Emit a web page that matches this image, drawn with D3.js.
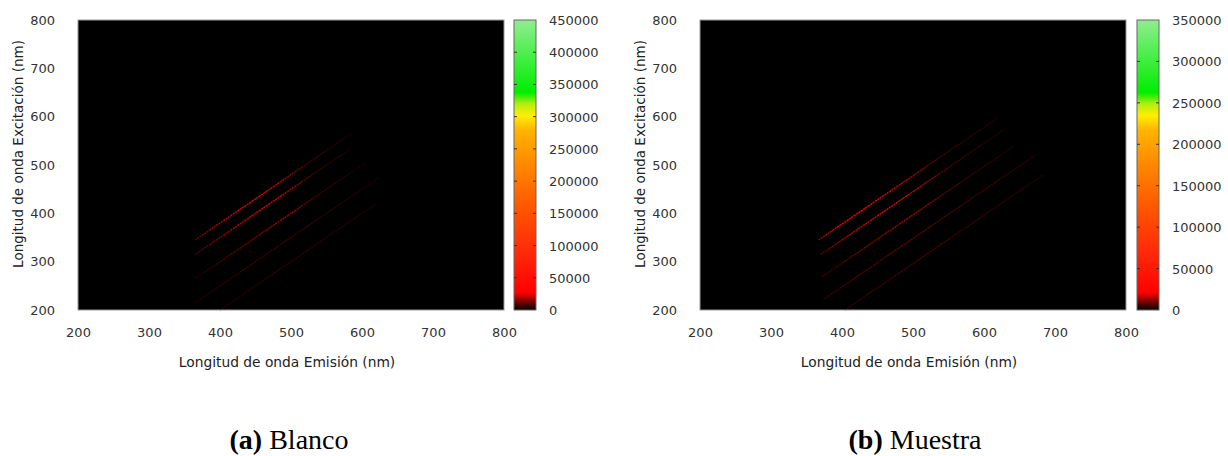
<!DOCTYPE html>
<html>
<head>
<meta charset="utf-8">
<script src="https://cdn.jsdelivr.net/npm/d3@7"></script>
<style>
  body { margin: 0; background: #fff; }
</style>
</head>
<body>
<svg id="canvas" width="1228" height="456" font-family="DejaVu Sans"></svg>
<script>
// axis ticks (nm)
let axisTicks = [200, 300, 400, 500, 600, 700, 800];

// scatter lines: emission = excitation + offset
let lineOffsets = [20, 50, 100, 150, 200];
let exStep = 10;

// Blanco: start excitation and intensity (x1000) each 10 nm
let blancoStart = [345, 315, 265, 215, 200];
let blancoValues = [
  [11, 14, 17, 19, 21, 22, 23, 23, 24, 23, 22, 21, 19, 16, 11, 9, 7, 6, 5, 4, 4, 3, 3],
  [8, 10, 12, 14, 16, 18, 19, 21, 22, 23, 23, 22, 21, 19, 15, 11, 8, 6, 5, 4, 4, 3, 3],
  [4, 5, 6, 7, 8, 9, 10, 11, 12, 13, 15, 17, 18, 17, 15, 11, 9, 7, 6, 5, 4, 4, 3, 3, 3],
  [4, 4, 4, 5, 5, 5, 6, 6, 6, 6, 7, 7, 7, 7, 6, 6, 6, 5, 5, 5, 4, 4, 4, 3, 3, 3, 3],
  [3, 4, 4, 4, 4, 5, 5, 5, 5, 5, 5, 5, 5, 5, 5, 4, 4, 4, 4, 4, 3, 3, 3]
];
let blancoMax = 450000;
let blancoCbTicks = [0, 50000, 100000, 150000, 200000, 250000, 300000, 350000, 400000, 450000];

// Muestra
let muestraStart = [345, 315, 268, 222, 200];
let muestraOffsets = [22, 55, 103, 152, 204];
let muestraValues = [
  [13, 16, 18, 19, 20, 20, 20, 20, 19, 18, 18, 17, 15, 13, 10, 8, 7, 6, 5, 5, 4, 4, 4, 3, 3, 3],
  [8, 10, 11, 13, 15, 16, 17, 18, 19, 19, 19, 18, 17, 16, 14, 12, 10, 8, 6, 5, 5, 4, 4, 3, 3, 3, 3],
  [5, 5, 6, 7, 8, 9, 10, 10, 11, 12, 13, 14, 14, 13, 12, 11, 10, 8, 7, 6, 5, 5, 4, 4, 4, 3, 3, 3],
  [4, 5, 5, 6, 6, 6, 7, 7, 7, 8, 8, 8, 8, 8, 8, 7, 7, 7, 6, 6, 6, 5, 5, 5, 5, 4, 4, 4, 4, 3, 3],
  [4, 4, 4, 5, 5, 5, 5, 6, 6, 6, 6, 6, 6, 6, 6, 5, 5, 5, 5, 5, 4, 4, 4, 4, 4, 4, 3, 3, 3]
];
let muestraMax = 350000;
let muestraCbTicks = [0, 50000, 100000, 150000, 200000, 250000, 300000, 350000];

// palette (fraction of max -> colour)
let paletteStops = [0, 0.06, 0.2, 0.35, 0.5, 0.62, 0.67, 0.71, 0.75, 1];
let paletteColors = ["#000000", "#ff0000", "#ff2a0a", "#ff5500", "#ff8800", "#ffb400", "#ffee00", "#b4ee10", "#00ee00", "#90ee90"];

let svg = d3.select("#canvas");

let drawPanel = (opts) => {
  let g = svg.append("g");
  let x = d3.scaleLinear().domain([200, 800]).range([opts.x0, opts.x1]);
  let y = d3.scaleLinear().domain([200, 800]).range([310, 20]);
  let color = d3.scaleLinear()
    .domain(paletteStops.map((s) => s * opts.max))
    .range(paletteColors)
    .clamp(true);

  g.append("rect")
    .attr("x", opts.x0).attr("y", 20)
    .attr("width", opts.x1 - opts.x0).attr("height", 290)
    .attr("fill", "#000");

  // scatter lines
  opts.values.forEach((vals, i) => {
    let off = opts.offsets[i];
    let ex0 = opts.start[i];
    for (let j = 0; j < vals.length - 1; j++) {
      let a = ex0 + j * exStep;
      let b = a + exStep;
      g.append("line")
        .attr("x1", x(a + off)).attr("y1", y(a))
        .attr("x2", x(b + off)).attr("y2", y(b))
        .attr("stroke", color(vals[j] * 1000))
        .attr("stroke-width", 1.4)
        .attr("stroke-dasharray", "2,0.6");
    }
  });

  g.append("rect")
    .attr("x", opts.x0).attr("y", 20)
    .attr("width", opts.x1 - opts.x0).attr("height", 290)
    .attr("fill", "none").attr("stroke", "#999").attr("stroke-width", 1);

  let xAxis = g.append("g")
    .attr("transform", "translate(0,325)")
    .call(d3.axisBottom(x).tickValues(axisTicks).tickSize(0).tickFormat(d3.format("d")));
  xAxis.select(".domain").remove();
  xAxis.selectAll("text").attr("font-size", 13).attr("fill", "#333").attr("font-family", "DejaVu Sans");

  let yAxis = g.append("g")
    .attr("transform", "translate(" + (opts.x0 - 20) + ",0)")
    .call(d3.axisLeft(y).tickValues(axisTicks).tickSize(0).tickFormat(d3.format("d")));
  yAxis.select(".domain").remove();
  yAxis.selectAll("text").attr("font-size", 13).attr("fill", "#333").attr("font-family", "DejaVu Sans");

  g.append("text")
    .attr("x", (opts.x0 + opts.x1) / 2 - 4).attr("y", 367)
    .attr("text-anchor", "middle").attr("font-size", 13.8).attr("fill", "#222")
    .text("Longitud de onda Emisión (nm)");

  g.append("text")
    .attr("transform", "translate(" + (opts.x0 - 55) + ",154) rotate(-90)")
    .attr("text-anchor", "middle").attr("font-size", 13.5).attr("fill", "#222")
    .text("Longitud de onda Excitación (nm)");

  // colour bar
  let cb = d3.scaleLinear().domain([0, opts.max]).range([310, 20]);
  let gradId = "grad" + opts.id;
  let grad = svg.append("defs").append("linearGradient")
    .attr("id", gradId)
    .attr("x1", 0).attr("y1", 1).attr("x2", 0).attr("y2", 0);
  grad.selectAll("stop")
    .data(paletteStops)
    .enter()
    .append("stop")
    .attr("offset", (d) => d)
    .attr("stop-color", (d, i) => paletteColors[i]);

  g.append("rect")
    .attr("x", opts.cbX).attr("y", 20)
    .attr("width", 22).attr("height", 290)
    .attr("fill", "url(#" + gradId + ")")
    .attr("stroke", "#666").attr("stroke-width", 1);

  opts.cbTicks.forEach((t) => {
    if (t > 0 && t < opts.max) {
      g.append("line")
        .attr("x1", opts.cbX).attr("x2", opts.cbX + 3)
        .attr("y1", cb(t)).attr("y2", cb(t))
        .attr("stroke", "#333");
      g.append("line")
        .attr("x1", opts.cbX + 19).attr("x2", opts.cbX + 22)
        .attr("y1", cb(t)).attr("y2", cb(t))
        .attr("stroke", "#333");
    }
    g.append("text")
      .attr("x", opts.cbX + 35).attr("y", cb(t) + 5)
      .attr("font-size", 13).attr("fill", "#333")
      .text(t);
  });

  let cap = g.append("text")
    .attr("x", opts.capX).attr("y", 449)
    .attr("text-anchor", "middle")
    .attr("font-family", "Liberation Serif")
    .attr("font-size", 28).attr("fill", "#000");
  cap.append("tspan").attr("font-weight", "bold").text(opts.capTag);
  cap.append("tspan").text(" " + opts.capText);
};

drawPanel({
  id: "a", x0: 78, x1: 504, cbX: 514,
  offsets: lineOffsets, start: blancoStart, values: blancoValues,
  max: blancoMax, cbTicks: blancoCbTicks,
  capX: 289, capTag: "(a)", capText: "Blanco"
});

drawPanel({
  id: "b", x0: 700, x1: 1126, cbX: 1137,
  offsets: muestraOffsets, start: muestraStart, values: muestraValues,
  max: muestraMax, cbTicks: muestraCbTicks,
  capX: 915, capTag: "(b)", capText: "Muestra"
});
</script>
</body>
</html>
